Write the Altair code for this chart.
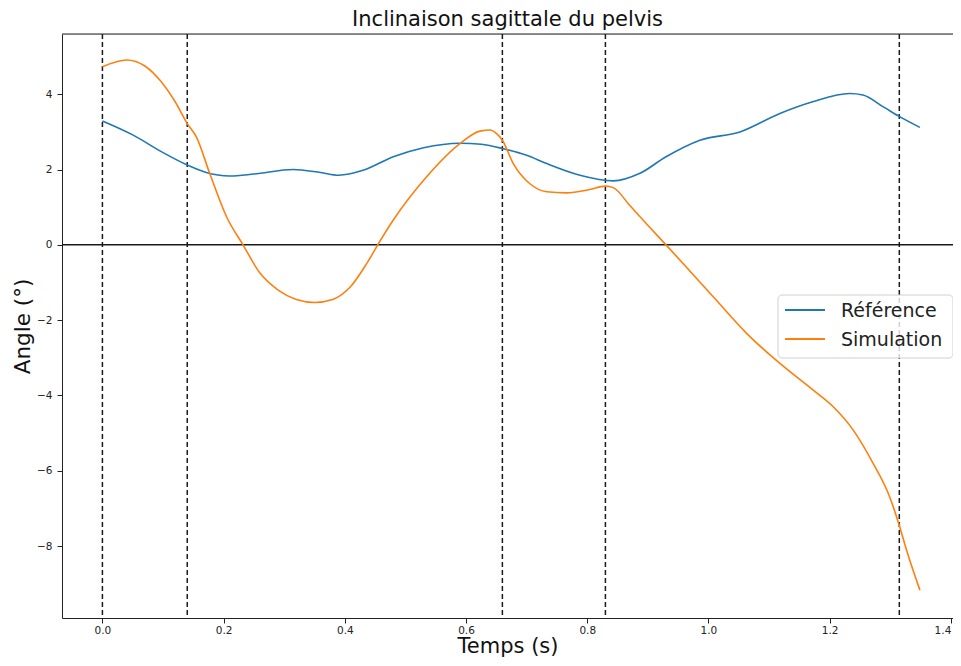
import altair as alt
import pandas as pd

# --- data ---
t_ref = [0.0, 0.05, 0.10, 0.14, 0.17, 0.21, 0.25, 0.315, 0.36, 0.39, 0.43, 0.48, 0.53,
         0.59, 0.625, 0.66, 0.70, 0.733, 0.788, 0.843, 0.887, 0.93, 0.986, 1.052,
         1.118, 1.172, 1.233, 1.255, 1.29, 1.314, 1.349]
v_ref = [3.29, 2.92, 2.45, 2.12, 1.93, 1.83, 1.88, 2.0, 1.92, 1.85, 1.98, 2.34, 2.58,
         2.70, 2.67, 2.56, 2.38, 2.16, 1.85, 1.70, 1.90, 2.34, 2.78, 3.0,
         3.49, 3.80, 4.02, 3.98, 3.65, 3.42, 3.12]

t_sim = [0.0, 0.04, 0.07, 0.095, 0.12, 0.14, 0.155, 0.177, 0.205, 0.232, 0.26, 0.29,
         0.32, 0.35, 0.38, 0.41, 0.436, 0.458, 0.48, 0.535, 0.59, 0.623, 0.64, 0.65,
         0.66, 0.678, 0.705, 0.733, 0.766, 0.804, 0.83, 0.843, 0.87, 0.90, 0.93,
         1.008, 1.063, 1.118, 1.173, 1.206, 1.239, 1.272, 1.299, 1.314, 1.327, 1.349]
v_sim = [4.73, 4.91, 4.75, 4.37, 3.80, 3.22, 2.87, 1.90, 0.74, 0.0, -0.75, -1.2,
         -1.45, -1.53, -1.45, -1.1, -0.5, 0.1, 0.66, 1.81, 2.69, 3.02, 3.05, 2.96,
         2.78, 2.16, 1.63, 1.41, 1.38, 1.47, 1.56, 1.52, 1.05, 0.52, 0.0,
         -1.38, -2.35, -3.15, -3.86, -4.30, -4.92, -5.81, -6.69, -7.40, -8.11, -9.17]

events = [0.0, 0.14, 0.66, 0.83, 1.315]
series_names = ["Référence", "Simulation"]
series_colors = ["#1f77b4", "#ff7f0e"]
x_ticks = [0.0, 0.2, 0.4, 0.6, 0.8, 1.0, 1.2, 1.4]
y_ticks = [-8, -6, -4, -2, 0, 2, 4]

df = pd.concat([
    pd.DataFrame({"t": t_ref, "v": v_ref, "serie": series_names[0]}),
    pd.DataFrame({"t": t_sim, "v": v_sim, "serie": series_names[1]}),
])
ev = pd.DataFrame({"t": events})
zero = pd.DataFrame({"v": [0]})

FONT = "DejaVu Sans"
W, H = 891, 584
xscale = alt.Scale(domain=[-0.0667, 1.4036], nice=False, zero=False)
yscale = alt.Scale(domain=[-9.91, 5.6], nice=False, zero=False)

xaxis = alt.Axis(title="Temps (s)", values=x_ticks, format=".1f", grid=False,
                 labelFont=FONT, labelFontSize=10.5, labelColor="#222",
                 labelPadding=2, labelFlush=5,
                 titleFont=FONT, titleFontSize=21, titleFontWeight="normal",
                 titleColor="#111", titlePadding=0,
                 tickColor="#222", tickSize=5, domainColor="#222", domainWidth=1)
yaxis = alt.Axis(title="Angle (°)", values=y_ticks, format="d", grid=False,
                 labelFont=FONT, labelFontSize=10.5, labelColor="#222",
                 labelPadding=5,
                 titleFont=FONT, titleFontSize=21.5, titleFontWeight="normal",
                 titleColor="#111", titlePadding=2,
                 tickColor="#222", tickSize=5, domainColor="#222", domainWidth=1)

lines = alt.Chart(df).mark_line(strokeWidth=1.6, interpolate="monotone").encode(
    x=alt.X("t:Q", scale=xscale, axis=xaxis),
    y=alt.Y("v:Q", scale=yscale, axis=yaxis),
    color=alt.Color("serie:N",
                    scale=alt.Scale(domain=series_names, range=series_colors),
                    legend=None),
    order="t:Q",
    detail="serie:N",
)

vlines = alt.Chart(ev).mark_rule(color="#1a1a1a", strokeWidth=1.5,
                                 strokeDash=[5, 3]).encode(
    x=alt.X("t:Q", scale=xscale),
)

hline = alt.Chart(zero).mark_rule(color="#1a1a1a", strokeWidth=1.5).encode(
    y=alt.Y("v:Q", scale=yscale),
)

topline = alt.Chart(zero).mark_rule(color="#222", strokeWidth=1).encode(
    x=alt.value(0), x2=alt.value(W), y=alt.value(0)
)

# --- legend box (matplotlib style, upper-right area) ---
LX, LY, LW, LH = 716, 261, 175, 63
ROW0, ROWSTEP = 15, 29
legend_layers = [
    alt.Chart(zero).mark_rect(fill="white", fillOpacity=0.8, stroke="#d0d0d0",
                              strokeWidth=1, cornerRadius=4).encode(
        x=alt.value(LX), x2=alt.value(LX + LW),
        y=alt.value(LY), y2=alt.value(LY + LH))
]
for i, (name, col) in enumerate(zip(series_names, series_colors)):
    yy = LY + ROW0 + i * ROWSTEP
    legend_layers.append(
        alt.Chart(zero).mark_rule(color=col, strokeWidth=2).encode(
            x=alt.value(LX + 7), x2=alt.value(LX + 47), y=alt.value(yy)))
    legend_layers.append(
        alt.Chart(pd.DataFrame({"serie": [name]})).mark_text(
            align="left", baseline="middle", font=FONT, fontSize=19,
            color="#222").encode(
            text="serie:N", x=alt.value(LX + 63), y=alt.value(yy + 1)))

chart = alt.layer(vlines, hline, lines, topline, *legend_layers).properties(
    width=W, height=H,
    title=alt.Title("Inclinaison sagittale du pelvis", font=FONT, fontSize=21,
                    fontWeight="normal", color="#111", offset=3),
    autosize=alt.AutoSizeParams(type="none"),
    padding={"left": 54, "top": 26, "right": 0, "bottom": 40},
).configure_view(stroke=None).configure(background="white")

chart.save("out.html", embed_options={"renderer": "svg", "actions": False})
